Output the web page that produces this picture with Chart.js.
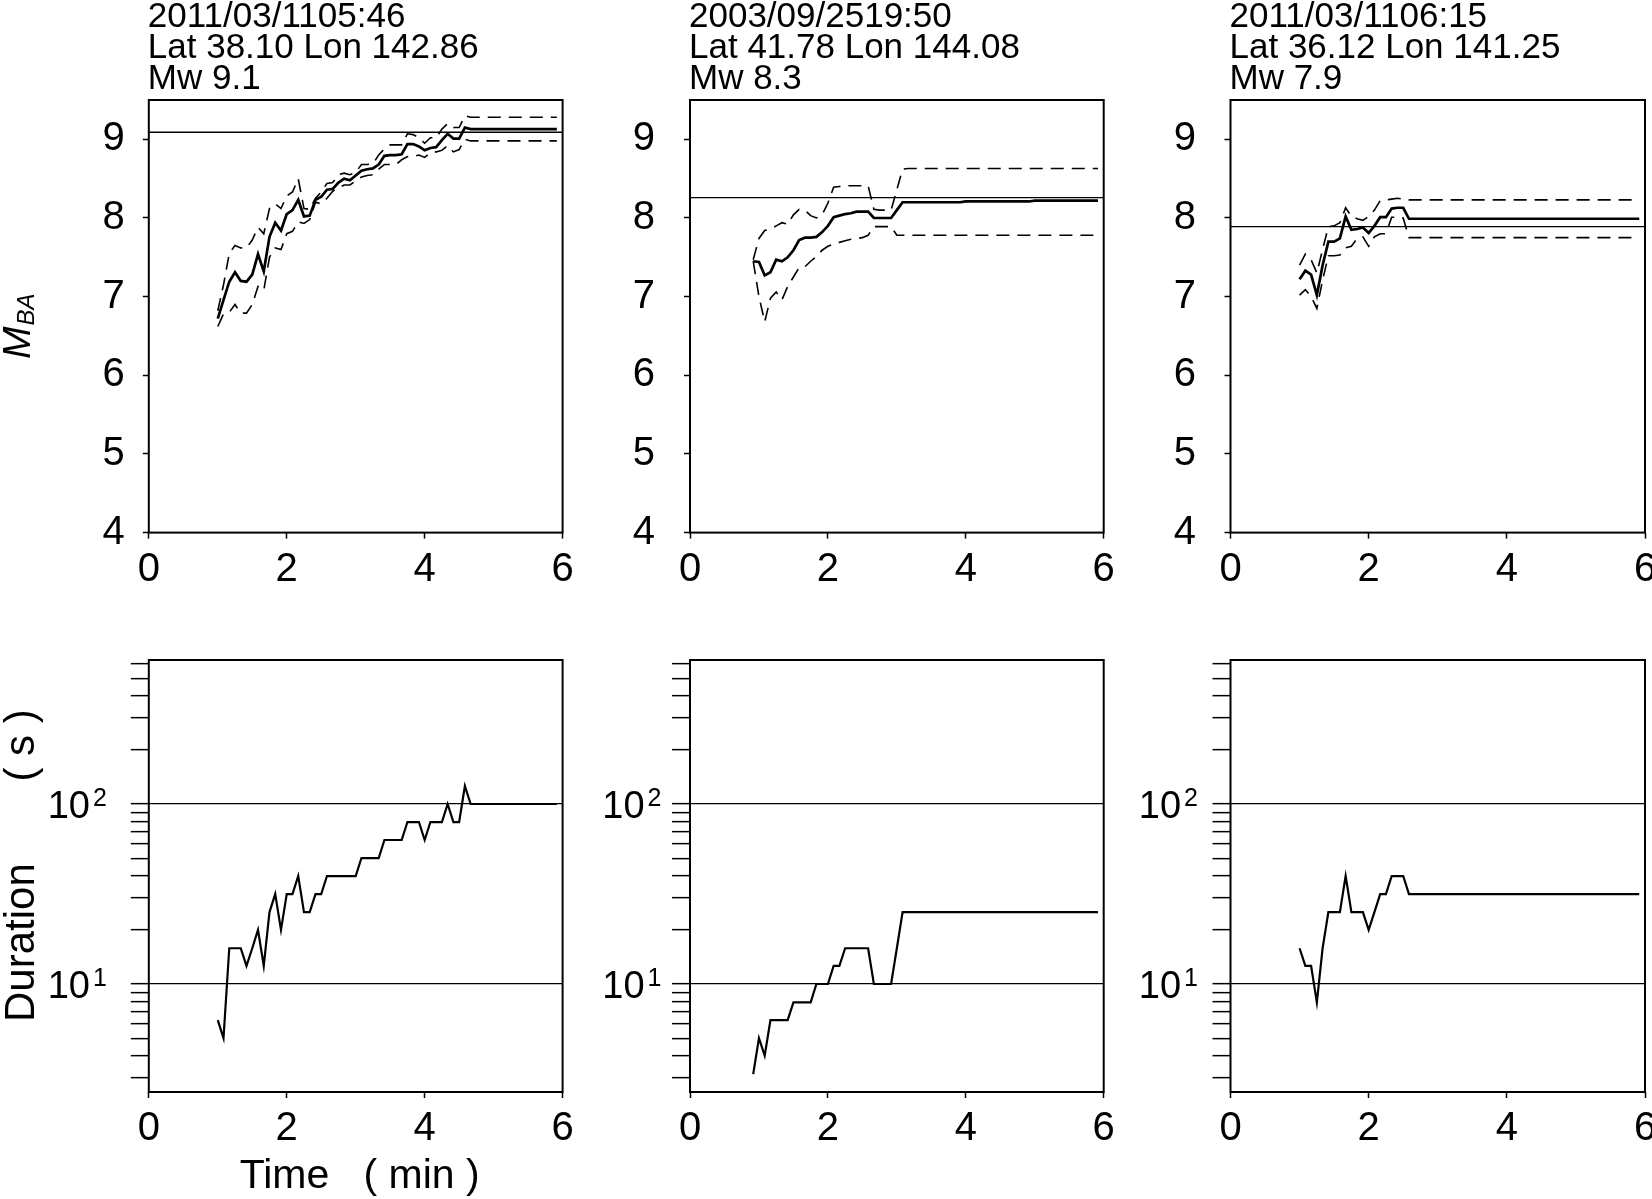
<!DOCTYPE html>
<html>
<head>
<meta charset="utf-8">
<script src="https://cdn.jsdelivr.net/npm/chart.js@4.4.0/dist/chart.umd.min.js"></script>
<style>
  html, body { margin: 0; padding: 0; background: #fff; }
  #wrap { position: relative; width: 1652px; height: 1199px; overflow: hidden; background: #fff; }
  #wrap canvas { position: absolute; }
</style>
</head>
<body>
<div id="wrap">
  <canvas id="mba-0"></canvas><canvas id="mba-1"></canvas><canvas id="mba-2"></canvas>
  <canvas id="dur-0"></canvas><canvas id="dur-1"></canvas><canvas id="dur-2"></canvas>
</div>
<script>
// ---- data -------------------------------------------------------------

const TITLES = [
  ['2011/03/1105:46', 'Lat 38.10 Lon 142.86', 'Mw 9.1'],
  ['2003/09/2519:50', 'Lat 41.78 Lon 144.08', 'Mw 8.3'],
  ['2011/03/1106:15', 'Lat 36.12 Lon 141.25', 'Mw 7.9'],
];
const MW_LINE = [9.09, 8.26, 7.89];

// sample times (s after origin)
const T_A = [60,65,70,75,80,85,90,95,100,105,110,115,120,125,130,135,140,145,150,155,
  160,165,170,175,180,185,190,195,200,205,210,215,220,225,230,235,240,245,250,255,
  260,265,270,275,280,285,290,295,300,305,310,315,320,325,330,335,340,345,350,355];
const T_B = [55,60,65,70,75,80,85,90,95,100,105,110,115,120,125,130,135,140,145,150,155,
  160,165,170,175,180,185,190,195,200,205,210,215,220,225,230,235,240,245,250,255,
  260,265,270,275,280,285,290,295,300,305,310,315,320,325,330,335,340,345,350,355];

// event 1
const MED_1 = [6.72,6.96,7.19,7.31,7.20,7.19,7.28,7.54,7.32,7.76,
  7.94,7.84,8.05,8.10,8.23,8.02,8.03,8.23,8.27,8.36,
  8.37,8.45,8.50,8.48,8.54,8.60,8.62,8.63,8.68,8.79,
  8.80,8.80,8.81,8.94,8.94,8.91,8.86,8.89,8.90,8.99,
  9.07,9.01,9.01,9.15,9.13,9.13,9.13,9.13,9.13,9.13,
  9.13,9.13,9.13,9.13,9.13,9.13,9.13,9.13,9.13,9.13];
const UP_1 = [6.82,7.15,7.55,7.65,7.62,7.62,7.72,7.88,7.80,8.12,
  8.18,8.12,8.28,8.33,8.50,8.12,8.11,8.25,8.33,8.44,
  8.45,8.55,8.57,8.55,8.58,8.68,8.68,8.69,8.80,8.88,
  8.93,8.93,8.93,9.07,9.06,9.02,8.95,9.02,9.02,9.13,
  9.20,9.15,9.15,9.30,9.28,9.28,9.28,9.28,9.28,9.28,
  9.28,9.28,9.28,9.28,9.28,9.28,9.28,9.28,9.28,9.28];
const LO_1 = [6.62,6.78,6.80,6.90,6.79,6.79,6.90,7.13,7.08,7.50,
  7.62,7.60,7.80,7.83,7.95,7.93,7.98,8.20,8.18,8.25,
  8.34,8.38,8.42,8.42,8.47,8.52,8.54,8.55,8.62,8.68,
  8.68,8.68,8.74,8.78,8.78,8.80,8.77,8.83,8.84,8.86,
  8.92,8.84,8.87,9.00,8.98,8.98,8.98,8.98,8.98,8.98,
  8.98,8.98,8.98,8.98,8.98,8.98,8.98,8.98,8.98,8.98];
const DUR_1 = [6.3,5.0,15.8,15.8,15.8,12.6,15.8,20.0,12.6,25.1,
  31.6,20.0,31.6,31.6,39.8,25.1,25.1,31.6,31.6,39.8,
  39.8,39.8,39.8,39.8,39.8,50.1,50.1,50.1,50.1,63.1,
  63.1,63.1,63.1,79.4,79.4,79.4,63.1,79.4,79.4,79.4,
  100,79.4,79.4,125.9,100,100,100,100,100,100,
  100,100,100,100,100,100,100,100,100,100];

// event 2
const MED_2 = [7.45,7.44,7.27,7.31,7.47,7.45,7.50,7.59,7.72,7.75,
  7.75,7.76,7.82,7.90,8.01,8.03,8.05,8.06,8.08,8.08,
  8.08,8.00,8.00,8.00,8.00,8.10,8.20,8.20,8.20,8.20,
  8.20,8.20,8.20,8.20,8.20,8.20,8.20,8.21,8.21,8.21,
  8.21,8.21,8.21,8.21,8.21,8.21,8.21,8.21,8.21,8.22,
  8.22,8.22,8.22,8.22,8.22,8.22,8.22,8.22,8.22,8.22,
  8.22];
const UP_2 = [7.47,7.74,7.84,7.86,7.90,7.94,7.92,8.04,8.11,8.10,
  8.03,8.00,8.04,8.19,8.39,8.40,8.41,8.41,8.41,8.41,
  8.41,8.11,8.10,8.10,8.10,8.36,8.62,8.63,8.63,8.63,
  8.63,8.63,8.63,8.63,8.63,8.63,8.63,8.63,8.63,8.63,
  8.63,8.63,8.63,8.63,8.63,8.63,8.63,8.63,8.63,8.63,
  8.63,8.63,8.63,8.63,8.63,8.63,8.63,8.63,8.63,8.63,
  8.63];
const LO_2 = [7.45,7.00,6.68,6.98,7.06,6.96,7.13,7.25,7.37,7.38,
  7.45,7.51,7.59,7.64,7.67,7.69,7.71,7.73,7.74,7.75,
  7.78,7.89,7.89,7.89,7.89,7.78,7.78,7.78,7.78,7.78,
  7.78,7.78,7.78,7.78,7.78,7.78,7.78,7.78,7.78,7.78,
  7.78,7.78,7.78,7.78,7.78,7.78,7.78,7.78,7.78,7.78,
  7.78,7.78,7.78,7.78,7.78,7.78,7.78,7.78,7.78,7.78,
  7.78];
const DUR_2 = [3.16,5.0,4.0,6.3,6.3,6.3,6.3,7.9,7.9,7.9,
  7.9,10,10,10,12.6,12.6,15.8,15.8,15.8,15.8,
  15.8,10,10,10,10,15.8,25.1,25.1,25.1,25.1,
  25.1,25.1,25.1,25.1,25.1,25.1,25.1,25.1,25.1,25.1,
  25.1,25.1,25.1,25.1,25.1,25.1,25.1,25.1,25.1,25.1,
  25.1,25.1,25.1,25.1,25.1,25.1,25.1,25.1,25.1,25.1,
  25.1];

// event 3
const MED_3 = [7.22,7.33,7.28,7.02,7.40,7.70,7.70,7.74,8.02,7.85,
  7.86,7.88,7.81,7.90,8.01,8.01,8.12,8.13,8.13,7.99,
  7.99,7.99,7.99,7.99,7.99,7.99,7.99,7.99,7.99,7.99,
  7.99,7.99,7.99,7.99,7.99,7.99,7.99,7.99,7.99,7.99,
  7.99,7.99,7.99,7.99,7.99,7.99,7.99,7.99,7.99,7.99,
  7.99,7.99,7.99,7.99,7.99,7.99,7.99,7.99,7.99,7.99];
const UP_3 = [7.40,7.54,7.47,7.30,7.60,7.89,7.90,7.94,8.13,8.02,
  7.99,7.97,8.02,8.10,8.22,8.23,8.24,8.25,8.24,8.23,
  8.23,8.23,8.23,8.23,8.23,8.23,8.23,8.23,8.23,8.23,
  8.23,8.23,8.23,8.23,8.23,8.23,8.23,8.23,8.23,8.23,
  8.23,8.23,8.23,8.23,8.23,8.23,8.23,8.23,8.23,8.23,
  8.23,8.23,8.23,8.23,8.23,8.23,8.23,8.23,8.23,8.23];
const LO_3 = [7.02,7.09,7.00,6.85,7.21,7.52,7.52,7.53,7.62,7.64,
  7.74,7.76,7.64,7.76,7.80,7.80,8.01,8.01,8.00,7.75,
  7.75,7.75,7.75,7.75,7.75,7.75,7.75,7.75,7.75,7.75,
  7.75,7.75,7.75,7.75,7.75,7.75,7.75,7.75,7.75,7.75,
  7.75,7.75,7.75,7.75,7.75,7.75,7.75,7.75,7.75,7.75,
  7.75,7.75,7.75,7.75,7.75,7.75,7.75,7.75,7.75,7.75];
const DUR_3 = [15.8,12.6,12.6,7.9,15.8,25.1,25.1,25.1,39.8,25.1,
  25.1,25.1,20.0,25.1,31.6,31.6,39.8,39.8,39.8,31.6,
  31.6,31.6,31.6,31.6,31.6,31.6,31.6,31.6,31.6,31.6,
  31.6,31.6,31.6,31.6,31.6,31.6,31.6,31.6,31.6,31.6,
  31.6,31.6,31.6,31.6,31.6,31.6,31.6,31.6,31.6,31.6,
  31.6,31.6,31.6,31.6,31.6,31.6,31.6,31.6,31.6,31.6];

const TIMES = [T_A, T_B, T_A];
const MED = [MED_1, MED_2, MED_3];
const UP  = [UP_1, UP_2, UP_3];
const LO  = [LO_1, LO_2, LO_3];
const DUR = [DUR_1, DUR_2, DUR_3];

// axes
const X_RANGE = [0, 6];
const M_RANGE = [4, 9.5];
const D_RANGE = [2.512, 631];
const LOG_TICKS = [3,4,5,6,7,8,9,10,20,30,40,50,60,70,80,90,100,200,300,400,500,600];
const DECADES = [10, 100];
const DECADE_EXP = ['1', '2'];

// ---- layout / style ---------------------------------------------------

const FONT = "'Liberation Sans', Arial, sans-serif";
Chart.defaults.font.family = FONT;
Chart.defaults.color = '#000';
Chart.defaults.animation = false;

const TICK_FONT = 40;

const COLS = [
  { left: 0,    width: 580, padL: 148.8, padR: 17.4, yPad: 18,   supGap: 43 },
  { left: 580,  width: 540, padL: 110,   padR: 16.3, yPad: 29,   supGap: 29.5 },
  { left: 1120, width: 532, padL: 110.5, padR: 7,    yPad: 28.5, supGap: 33.5 },
];
const ROW_TOP = { top: 0,   height: 600, padT: 100, padB: 67.4, xPad: 7.6 };
const ROW_BOT = { top: 600, height: 599, padT: 60,  padB: 107,  xPad: 6.9 };

const pts = (t, v) => t.map((s, i) => ({ x: s / 60, y: v[i] }));

function placeCanvas(id, col, row) {
  const el = document.getElementById(id);
  el.width = col.width; el.height = row.height;
  el.style.left = col.left + 'px'; el.style.top = row.top + 'px';
  el.style.width = col.width + 'px'; el.style.height = row.height + 'px';
  return el;
}

// box, titles, axis names, 10^n labels
function decoPlugin(spec) {
  return {
    id: 'deco',
    afterDraw(chart) {
      const { ctx, chartArea: a } = chart;
      ctx.save();
      ctx.strokeStyle = '#000';
      ctx.lineWidth = 2;
      ctx.strokeRect(a.left, a.top, a.right - a.left, a.bottom - a.top);
      ctx.fillStyle = '#000';
      ctx.textBaseline = 'alphabetic';

      if (spec.title) {
        ctx.font = '35px ' + FONT;
        ctx.textAlign = 'left';
        [73, 42, 11.2].forEach((dy, i) => ctx.fillText(spec.title[i], a.left - 1, a.top - dy));
      }

      if (spec.decades) {
        const s = chart.scales.y;
        DECADES.forEach((v, j) => {
          const y = s.getPixelForValue(v);
          const xr = a.left - spec.supGap + 1;
          ctx.textAlign = 'right';
          ctx.font = '25px ' + FONT;
          ctx.fillText(DECADE_EXP[j], xr, y + 2);
          const w = ctx.measureText(DECADE_EXP[j]).width;
          ctx.font = '38px ' + FONT;
          ctx.fillText('10', xr - w - 3, y + 14);
        });
      }

      if (spec.mLabel) {
        ctx.translate(a.left - 119.2, a.top + 259);
        ctx.rotate(-Math.PI / 2);
        ctx.textAlign = 'left';
        ctx.font = 'italic 39px ' + FONT;
        ctx.fillText('M', 0, 0);
        const w = ctx.measureText('M').width;
        ctx.font = 'italic 24px ' + FONT;
        ctx.fillText('BA', w + 1, 4);
        ctx.setTransform(1, 0, 0, 1, 0, 0);
      }

      if (spec.durLabel) {
        ctx.translate(a.left - 114.8, a.top + 362);
        ctx.rotate(-Math.PI / 2);
        ctx.textAlign = 'left';
        ctx.font = '42px ' + FONT;
        ctx.fillText('Duration       ( s )', 0, 0);
        ctx.setTransform(1, 0, 0, 1, 0, 0);
      }

      if (spec.timeLabel) {
        ctx.textAlign = 'center';
        ctx.font = '41px ' + FONT;
        ctx.fillText('Time   ( min )', (a.left + a.right) / 2 + 4, a.bottom + 96);
      }
      ctx.restore();
    }
  };
}

function xScale(row) {
  return {
    type: 'linear', min: X_RANGE[0], max: X_RANGE[1],
    afterFit: s => { s.height = row.padB; s.paddingLeft = 0; s.paddingRight = 0; },
    border: { display: false },
    grid: { drawOnChartArea: false, drawTicks: true, tickLength: 6, tickWidth: 1.5, tickColor: '#000' },
    ticks: { stepSize: 2, includeBounds: false, autoSkip: false, maxRotation: 0,
             padding: row.xPad, color: '#000', font: { size: TICK_FONT, lineHeight: 1.2 } },
  };
}

// =========================================================
// M_BA panels (top row)
// =========================================================
function buildMbaChart(k) {
  const col = COLS[k];
  const el = placeCanvas('mba-' + k, col, ROW_TOP);
  const t = TIMES[k];
  return new Chart(el, {
    type: 'line',
    data: {
      datasets: [
        { data: pts(t, MED[k]), borderColor: '#000', borderWidth: 2.7 },
        { data: pts(t, UP[k]),  borderColor: '#000', borderWidth: 1.6, borderDash: [13, 8] },
        { data: pts(t, LO[k]),  borderColor: '#000', borderWidth: 1.6, borderDash: [13, 8] },
        { data: [{ x: X_RANGE[0], y: MW_LINE[k] }, { x: X_RANGE[1], y: MW_LINE[k] }],
          borderColor: '#000', borderWidth: 1.3 },
      ]
    },
    options: {
      responsive: false, maintainAspectRatio: false, devicePixelRatio: 1,
      layout: { padding: { left: 0, top: ROW_TOP.padT, right: col.padR, bottom: 0 } },
      elements: { point: { radius: 0 }, line: { tension: 0, fill: false } },
      plugins: { legend: { display: false }, tooltip: { enabled: false } },
      scales: {
        x: xScale(ROW_TOP),
        y: {
          type: 'linear', min: M_RANGE[0], max: M_RANGE[1],
          afterFit: s => { s.width = col.padL; s.paddingTop = 0; s.paddingBottom = 0; },
          border: { display: false },
          grid: { drawOnChartArea: false, drawTicks: true, tickLength: 6, tickWidth: 1.5, tickColor: '#000' },
          ticks: { stepSize: 1, includeBounds: false, autoSkip: false,
                   padding: col.yPad, color: '#000', font: { size: TICK_FONT, lineHeight: 1.2 } },
        }
      }
    },
    plugins: [decoPlugin({ title: TITLES[k], mLabel: k === 0 })]
  });
}

// =========================================================
// Duration panels (bottom row, log scale)
// =========================================================
function buildDurChart(k) {
  const col = COLS[k];
  const el = placeCanvas('dur-' + k, col, ROW_BOT);
  return new Chart(el, {
    type: 'line',
    data: {
      datasets: [{ data: pts(TIMES[k], DUR[k]), borderColor: '#000', borderWidth: 2.2 }]
    },
    options: {
      responsive: false, maintainAspectRatio: false, devicePixelRatio: 1,
      layout: { padding: { left: 0, top: ROW_BOT.padT, right: col.padR, bottom: 0 } },
      elements: { point: { radius: 0 }, line: { tension: 0, fill: false } },
      plugins: { legend: { display: false }, tooltip: { enabled: false } },
      scales: {
        x: xScale(ROW_BOT),
        y: {
          type: 'logarithmic', min: D_RANGE[0], max: D_RANGE[1],
          afterBuildTicks: s => { s.ticks = LOG_TICKS.map(v => ({ value: v })); },
          afterFit: s => { s.width = col.padL; s.paddingTop = 0; s.paddingBottom = 0; },
          border: { display: false },
          grid: {
            drawOnChartArea: true, drawTicks: true, tickLength: 18, tickWidth: 1.5, tickColor: '#000',
            lineWidth: 1.3,
            color: c => (c.tick && DECADES.includes(c.tick.value)) ? '#000' : 'rgba(0,0,0,0)',
          },
          ticks: { display: false, autoSkip: false },
        }
      }
    },
    plugins: [decoPlugin({ decades: true, supGap: col.supGap,
                           durLabel: k === 0, timeLabel: k === 0 })]
  });
}

[0, 1, 2].forEach(k => { buildMbaChart(k); buildDurChart(k); });
</script>
</body>
</html>
